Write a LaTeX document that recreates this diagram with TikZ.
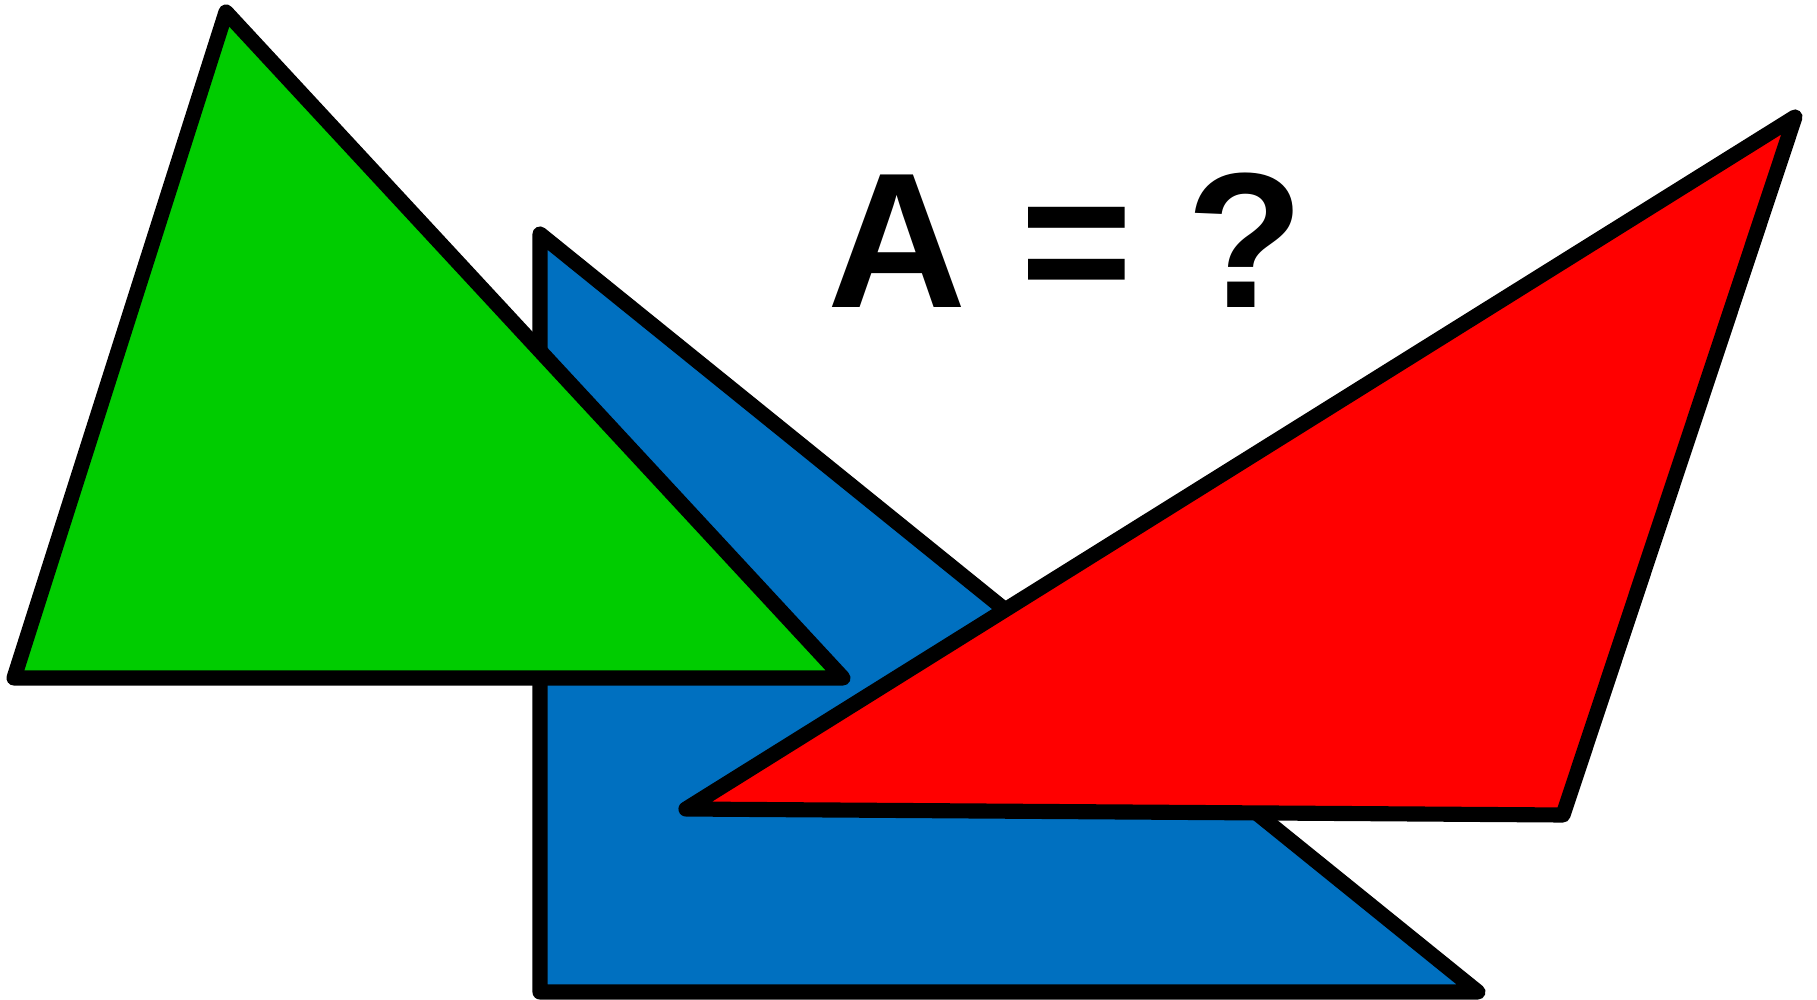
\documentclass[tikz,border=0pt]{standalone}
\usepackage{fontspec}
\setmainfont{Liberation Sans}
\usepackage{xcolor}
\usetikzlibrary{positioning}
\definecolor{trigreen}{HTML}{00CC00}
\definecolor{triblue}{HTML}{0070C0}
\definecolor{trired}{HTML}{FF0000}
\tikzset{
  triedge/.style={draw=black,line width=4.3pt,line join=round},
  greentri/.style={triedge,fill=trigreen},
  bluetri/.style={triedge,fill=triblue},
  redtri/.style={triedge,fill=trired},
  asktext/.style={inner sep=0pt,font=\fontsize{54.8}{60}\selectfont\bfseries},
}

\begin{document}
\begin{tikzpicture}[x=0.01cm,y=-0.01cm]
  \useasboundingbox (0,0) rectangle (1817,1000);
  % blue one at the back
  \coordinate (bT) at (540,234);
  \coordinate (bL) at (540,992);
  \coordinate (bR) at (1478,992);
  \draw[bluetri] (bT) -- (bL) -- (bR) -- cycle;
  % green one
  \coordinate (gT) at (226,12);
  \coordinate (gL) at (14,678);
  \coordinate (gR) at (843,678);
  \draw[greentri] (gT) -- (gL) -- (gR) -- cycle;
  % red one in front
  \coordinate (rT) at (1795,117);
  \coordinate (rL) at (686,809);
  \coordinate (rB) at (1563,815);
  \draw[redtri] (rT) -- (rL) -- (rB) -- cycle;
  \node[asktext,anchor=base] (askA) at (1066,307) {A = ?};
\end{tikzpicture}
\end{document}
